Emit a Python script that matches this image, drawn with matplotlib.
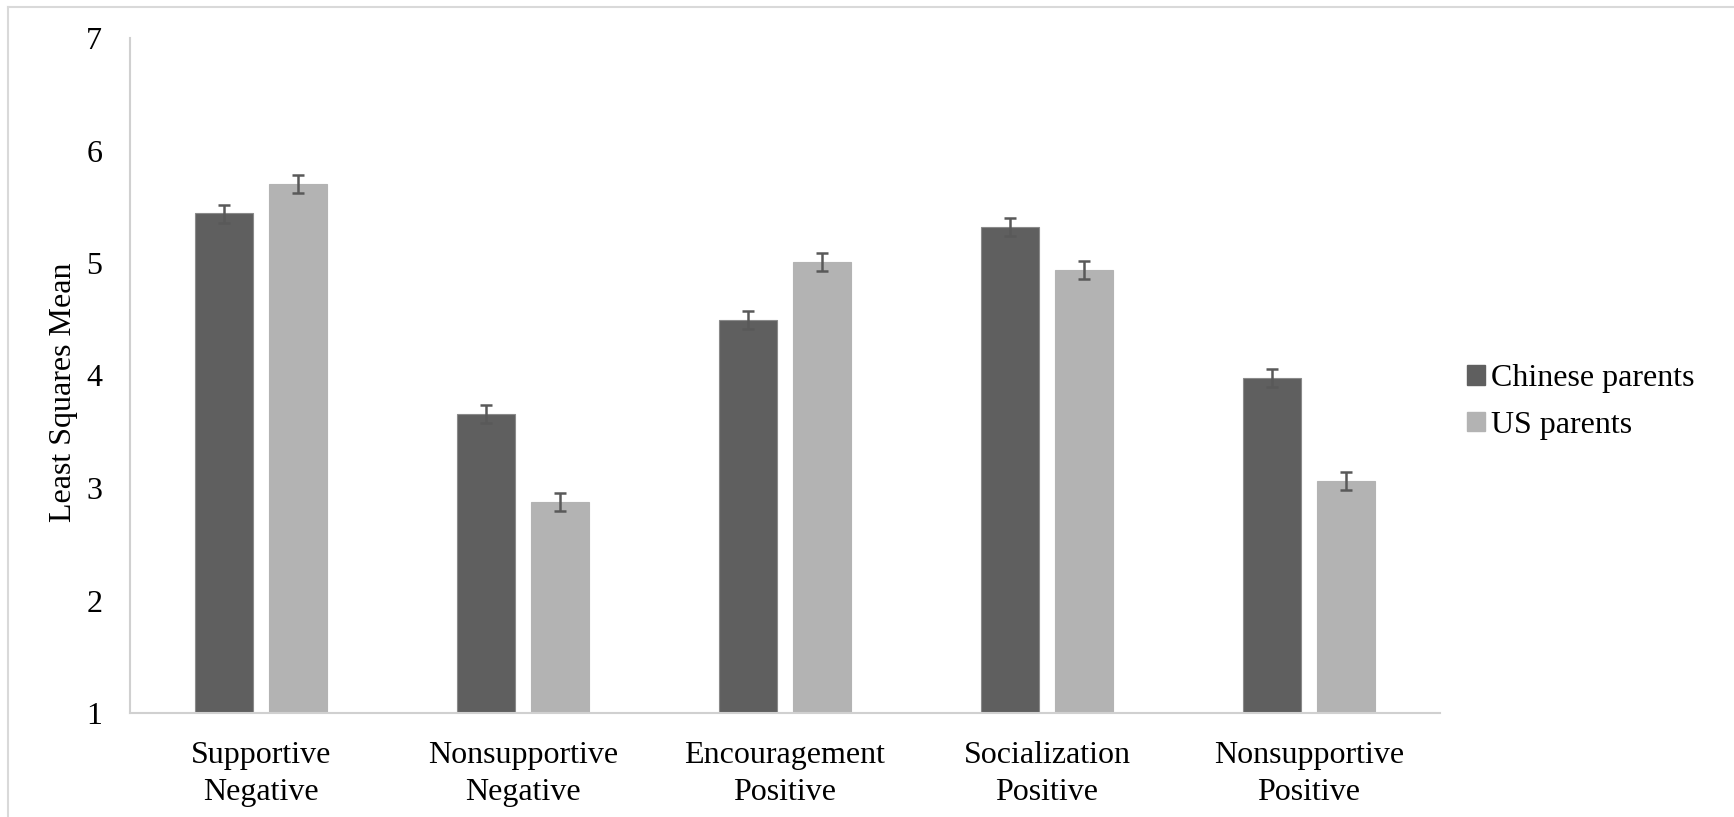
import matplotlib
matplotlib.use("Agg")
import matplotlib.pyplot as plt
from matplotlib.lines import Line2D
from matplotlib.patches import Patch
import numpy as np

categories = ["Supportive\nNegative", "Nonsupportive\nNegative", "Encouragement\nPositive",
              "Socialization\nPositive", "Nonsupportive\nPositive"]
chinese_means = [5.44, 3.66, 4.49, 5.32, 3.98]
us_means = [5.70, 2.88, 5.01, 4.94, 3.06]
chinese_se = [0.08, 0.08, 0.08, 0.08, 0.08]
us_se = [0.08, 0.08, 0.08, 0.08, 0.08]
series_names = ["Chinese parents", "US parents"]
y_ticks = [1, 2, 3, 4, 5, 6, 7]

plt.rcParams["font.family"] = ["Liberation Serif", "DejaVu Serif"]

W, H = 1734, 817
fig = plt.figure(figsize=(W / 100, H / 100), dpi=100)
ax = fig.add_axes([130 / W, 1 - 713 / H, (1440 - 130) / W, (713 - 38) / H])

dark = "#5f5f5f"
light = "#b3b3b3"
err_color = "#595959"
bar_w = 0.224
offset = 0.141
x = np.arange(len(categories))

ax.bar(x - offset, np.array(chinese_means) - 1, bar_w, bottom=1, color=dark,
       edgecolor="#8a8a8a", linewidth=0.8, zorder=2)
ax.bar(x + offset, np.array(us_means) - 1, bar_w, bottom=1, color=light,
       edgecolor=light, linewidth=0.8, zorder=2)
ax.errorbar(x - offset, chinese_means, yerr=chinese_se, fmt="none", ecolor=err_color,
            elinewidth=1.8, capsize=4.3, capthick=1.8, zorder=3)
ax.errorbar(x + offset, us_means, yerr=us_se, fmt="none", ecolor=err_color,
            elinewidth=1.8, capsize=4.3, capthick=1.8, zorder=3)

ax.set_xlim(-0.5, len(categories) - 0.5)
ax.set_ylim(1, 7)
ax.set_yticks(y_ticks)
ax.set_yticklabels([str(t) for t in y_ticks], fontsize=23)
ax.set_xticks(x)
ax.set_xticklabels(categories, fontsize=23, linespacing=1.36)
ax.tick_params(axis="both", length=0)
ax.tick_params(axis="y", pad=20)
ax.tick_params(axis="x", pad=20)

for side in ["top", "right"]:
    ax.spines[side].set_visible(False)
for side in ["left", "bottom"]:
    ax.spines[side].set_color("#d0d0d0")
    ax.spines[side].set_linewidth(1.5)

fig.text(64 / W, 1 - 392 / H, "Least Squares Mean", rotation=90, fontsize=23,
         ha="center", va="center")

handles = [Patch(facecolor=dark, edgecolor=dark), Patch(facecolor=light, edgecolor=light)]
fig.legend(handles, series_names, loc="center left", bbox_to_anchor=(1467 / W, 1 - 402 / H),
           frameon=False, fontsize=23, handlelength=0.55, handleheight=0.55,
           handletextpad=0.2, labelspacing=0.55, borderpad=0, borderaxespad=0)

# light frame around the chart area
fig.add_artist(Line2D([8 / W, 1], [1 - 7 / H, 1 - 7 / H], color="#d9d9d9", linewidth=1.5))
fig.add_artist(Line2D([8 / W, 8 / W], [0, 1 - 7 / H], color="#d9d9d9", linewidth=1.5))

fig.savefig("out.png", dpi=100, facecolor="white")
